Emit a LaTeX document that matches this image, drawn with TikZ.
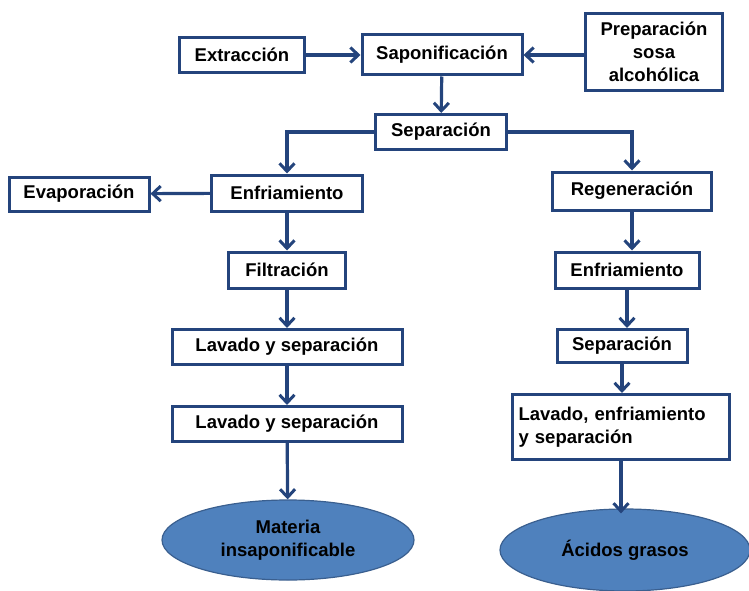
\documentclass[tikz,border=0pt]{standalone}
\usepackage{fontspec}
\setmainfont{Liberation Sans}
\usepackage{tikz}
\usetikzlibrary{arrows.meta,shapes.geometric}
\definecolor{azul}{RGB}{36,68,124}
\definecolor{relleno}{RGB}{79,129,189}
\definecolor{borde}{RGB}{58,95,143}

\begin{document}
\begin{tikzpicture}[x=1pt,y=-1pt,>={Straight Barb[length=8pt,width=15pt,line width=3pt]},
  caja/.style={draw=azul,line width=3pt,fill=white,inner sep=0pt,align=center,
    font=\fontsize{18.5}{23}\selectfont\bfseries},
  elipse/.style={ellipse,draw=borde,line width=1.2pt,fill=relleno,inner sep=0pt,align=center,
    font=\fontsize{18.5}{23}\selectfont\bfseries},
  flecha/.style={->,draw=azul,line width=3.2pt}]
\useasboundingbox (0,0) rectangle (749,591);
% fila de arriba
\node[caja,minimum width=125,minimum height=35] (extr) at (242,55) {Extracción};
\node[caja,minimum width=137,minimum height=77] (prep) at (654,52) {Preparación\\sosa\\alcohólica};
\node[caja,minimum width=160,minimum height=40] (sapon) at (442,55) {Saponificación};
\node[caja,minimum width=131,minimum height=35] (sep) at (441,132) {Separación};
% rama izquierda
\node[caja,minimum width=151,minimum height=36] (enf1) at (287,193) {Enfriamiento};
\node[caja,minimum width=140,minimum height=34] (evap) at (79,194) {Evaporación};
\node[caja,minimum width=117,minimum height=36] (filt) at (287,270) {Filtración};
\node[caja,minimum width=230,minimum height=35] (lav1) at (287,347) {Lavado y separación};
\node[caja,minimum width=230,minimum height=35] (lav2) at (287,424) {Lavado y separación};
\node[elipse,minimum width=252,minimum height=80] (mat) at (288,540) {Materia\\insaponificable};
% rama derecha
\node[caja,minimum width=159,minimum height=38] (reg) at (632,191) {Regeneración};
\node[caja,minimum width=144,minimum height=36] (enf2) at (627,270) {Enfriamiento};
\node[caja,minimum width=130,minimum height=33] (sep2) at (622,346) {Separación};
\node[caja,minimum width=217,minimum height=65,text width=205,align=left] (lav3) at (621,427) {Lavado, enfriamiento\\y separación};
\node[elipse,minimum width=250,minimum height=82] (acid) at (625,550) {Ácidos grasos};
% flechas
\draw[flecha] (extr) -- (sapon);
\draw[flecha] (prep.west |- sapon) -- (sapon.east);
\draw[flecha] (sapon) -- (sep);
\draw[flecha] (sep.west) -| (enf1.north);
\draw[flecha] (sep.east) -| (reg.north);
\draw[flecha] (enf1) -- (evap);
\draw[flecha] (enf1) -- (filt);
\draw[flecha] (filt) -- (lav1);
\draw[flecha] (lav1) -- (lav2);
\draw[flecha] (lav2) -- (mat);
\draw[flecha] (reg.south) -- (reg.south |- enf2.north);
\draw[flecha] (enf2.south) -- (enf2.south |- sep2.north);
\draw[flecha] (sep2.south) -- (sep2.south |- lav3.north);
\draw[flecha] (lav3.south) -- ([yshift=-5pt]lav3.south |- acid.north);
\end{tikzpicture}
\end{document}
